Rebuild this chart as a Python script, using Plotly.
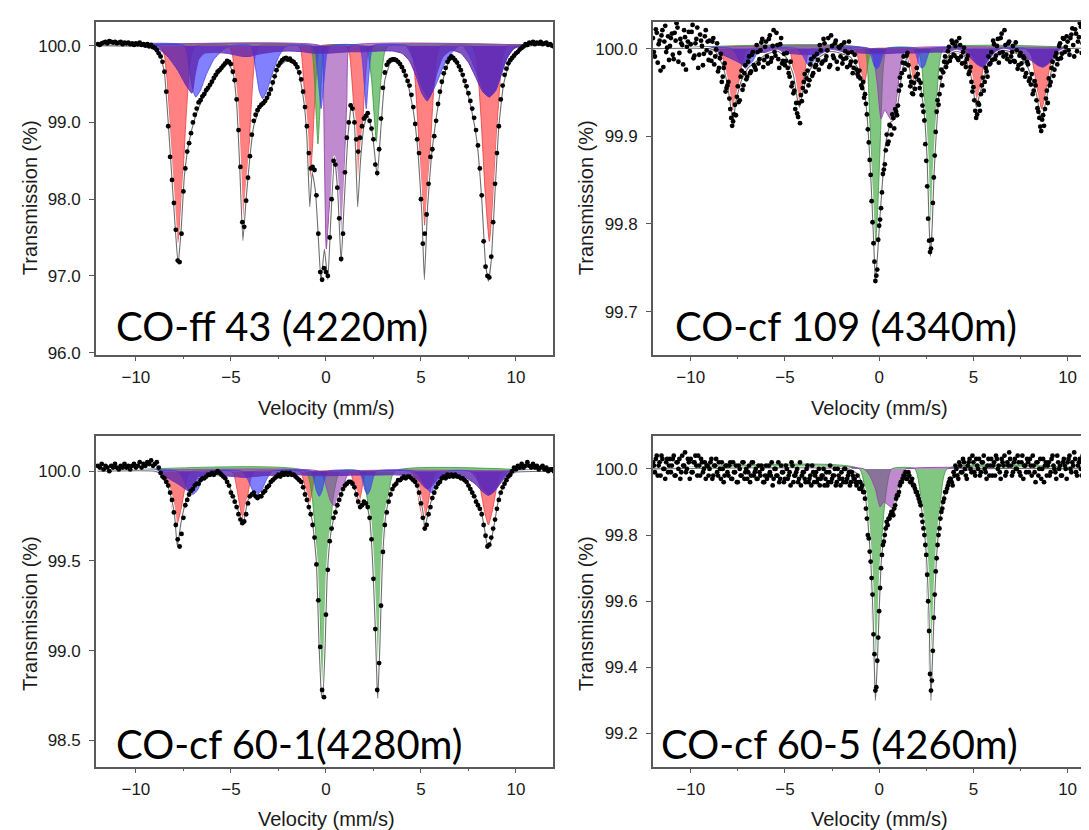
import plotly.graph_objects as go

W, H = 1089, 830

# ---------------- data ----------------
X_TICKS = [-10, -5, 0, 5, 10]
Y_TICKS = {
    1: [96.0, 97.0, 98.0, 99.0, 100.0],
    2: [99.7, 99.8, 99.9, 100.0],
    3: [98.5, 99.0, 99.5, 100.0],
    4: [99.2, 99.4, 99.6, 99.8, 100.0],
}
LABELS = {1: "CO-ff 43 (4220m)", 2: "CO-cf 109 (4340m)",
          3: "CO-cf 60-1(4280m)", 4: "CO-cf 60-5 (4260m)"}

# measured transmission (%) on the velocity channels -12.0 ... 12.0 mm/s (step 0.1)
P1_DOTS = [
    100.02, 100.01, 100.03, 100.04, 100.05, 100.03, 100.06, 100.05, 100.04, 100.05,
    100.03, 100.04, 100.05, 100.02, 100.04, 100.03, 100.04, 100.02, 100.03, 100.01,
    100.03, 100.02, 100.04, 100.01, 100.02, 100.00, 100.02, 99.99, 100.01, 99.98,
    99.97, 99.94, 99.90, 99.86, 99.79, 99.66, 99.40, 98.95, 98.55, 98.25,
    97.95, 97.60, 97.20, 97.18, 97.55, 98.10, 98.40, 98.62, 98.73, 98.86,
    99.00, 99.10, 99.18, 99.26, 99.29, 99.34, 99.37, 99.42, 99.45, 99.49,
    99.53, 99.58, 99.62, 99.66, 99.68, 99.71, 99.74, 99.77, 99.80, 99.79,
    99.76, 99.66, 99.55, 99.30, 98.90, 98.42, 97.70, 97.64, 97.98, 98.28,
    98.56, 98.84, 99.02, 99.10, 99.16, 99.20, 99.23, 99.25, 99.28, 99.32,
    99.37, 99.43, 99.52, 99.60, 99.68, 99.74, 99.78, 99.81, 99.83, 99.84,
    99.82, 99.83, 99.80, 99.79, 99.76, 99.72, 99.65, 99.56, 99.40, 99.20,
    98.95, 98.60, 98.40, 98.42, 98.38, 98.05, 97.55, 97.05, 96.95, 97.10,
    97.05, 97.00, 97.50, 98.00, 98.50, 98.45, 98.15, 97.75, 97.22, 97.55,
    98.35, 98.80, 99.00, 99.22, 99.18, 99.00, 98.78, 98.62, 98.80, 98.95,
    99.05, 99.08, 99.12, 99.02, 98.92, 98.78, 98.45, 98.34, 98.65, 99.05,
    99.45, 99.65, 99.75, 99.79, 99.81, 99.82, 99.82, 99.81, 99.79, 99.76,
    99.72, 99.67, 99.61, 99.54, 99.48, 99.36, 99.20, 98.98, 98.78, 98.60,
    98.00, 97.42, 97.55, 97.80, 98.20, 98.55, 98.65, 98.82, 99.02, 99.24,
    99.40, 99.53, 99.64, 99.71, 99.79, 99.83, 99.86, 99.84, 99.81, 99.78,
    99.73, 99.68, 99.62, 99.54, 99.47, 99.38, 99.28, 99.18, 99.06, 98.90,
    98.70, 98.40, 98.05, 97.45, 97.12, 97.00, 96.98, 97.25, 97.70, 98.20,
    98.60, 98.95, 99.30, 99.48, 99.62, 99.70, 99.77, 99.81, 99.84, 99.87,
    99.90, 99.92, 99.95, 99.97, 99.99, 100.02, 100.01, 100.04, 100.03, 100.05,
    100.02, 100.04, 100.03, 100.05, 100.02, 100.03, 100.04, 100.01, 100.02, 100.00,
    99.99,
]
P2_DOTS = [
    100.012, 99.991, 100.018, 100.005, 99.975, 100.021, 100.008, 99.996, 100.014, 100.003,
    100.017, 99.988, 100.009, 100.024, 99.995, 100.006, 99.982, 100.013, 100.002, 100.019,
    100.005, 100.027, 99.992, 100.011, 99.978, 100.016, 100.003, 99.994, 100.021, 100.008,
    100.009, 99.986, 100.012, 99.991, 100.006, 99.978, 99.994, 99.968, 99.983, 99.955,
    99.962, 99.931, 99.912, 99.925, 99.924, 99.957, 99.941, 99.975, 99.958, 99.981,
    99.968, 99.991, 99.974, 99.996, 99.979, 100.004, 99.983, 99.998, 100.011, 99.987,
    100.008, 99.983, 100.015, 99.989, 100.021, 99.992, 100.004, 99.978, 100.012, 99.986,
    99.981, 99.995, 99.972, 99.985, 99.961, 99.952, 99.938, 99.922, 99.915, 99.940,
    99.962, 99.951, 99.975, 99.964, 99.988, 99.972, 99.979, 99.994, 99.976, 99.998,
    99.985, 100.006, 99.991, 100.012, 99.981, 100.003, 99.989, 100.009, 99.977, 100.001,
    100.004, 99.988, 99.997, 99.979, 100.008, 99.985, 99.972, 99.993, 99.976, 99.968,
    99.966, 99.955, 99.944, 99.937, 99.908, 99.873, 99.826, 99.778, 99.735, 99.748,
    99.798, 99.818, 99.857, 99.868, 99.902, 99.894, 99.912, 99.925, 99.909, 99.928,
    99.935, 99.967, 99.972, 99.991, 99.983, 99.995, 99.968, 99.962, 99.948, 99.954,
    99.978, 99.964, 99.961, 99.935, 99.918, 99.872, 99.806, 99.768, 99.782, 99.853,
    99.905, 99.941, 99.948, 99.976, 99.973, 99.991, 99.984, 100.002, 99.990, 100.006,
    99.992, 100.008, 99.987, 100.004, 99.983, 100.001, 99.979, 99.992, 99.974, 99.962,
    99.956, 99.929, 99.925, 99.936, 99.948, 99.967, 99.962, 99.974, 99.991, 99.983,
    99.987, 100.005, 99.992, 100.011, 99.995, 100.017, 99.991, 100.004, 99.988, 100.008,
    99.991, 100.003, 99.985, 99.998, 99.981, 99.995, 99.976, 99.989, 99.972, 99.982,
    99.966, 99.971, 99.952, 99.958, 99.932, 99.921, 99.906, 99.924, 99.931, 99.952,
    99.966, 99.962, 99.985, 99.976, 99.995, 99.988, 100.006, 99.994, 100.011, 100.002,
    100.008, 99.993, 100.016, 100.004, 100.022, 99.997, 100.013, 100.025, 100.006, 100.018,
    100.011, 100.027, 99.998, 100.019, 100.008, 100.031, 100.002, 100.014, 99.992, 100.021,
    100.006,
]
# second (interleaved) set of channels for the noisy spectra: -11.95 ... 11.95 mm/s
P2_DOTS_B = [
    99.996, 100.022, 99.984, 100.009, 100.015, 99.979, 100.026, 100.001, 99.987, 100.012,
    99.993, 100.018, 100.029, 99.985, 100.011, 100.004, 100.021, 99.976, 100.008, 99.997,
    100.019, 99.989, 100.006, 100.024, 99.993, 100.009, 99.981, 100.014, 99.998, 99.987,
    99.995, 100.008, 99.982, 99.999, 99.974, 99.989, 99.962, 99.978, 99.951, 99.958,
    99.943, 99.921, 99.917, 99.936, 99.945, 99.939, 99.968, 99.953, 99.972, 99.965,
    99.985, 99.972, 99.993, 99.981, 99.976, 99.996, 99.988, 100.007, 99.979, 100.002,
    99.991, 100.011, 99.985, 100.003, 99.996, 100.018, 99.988, 100.005, 99.983, 99.994,
    99.986, 99.978, 99.968, 99.957, 99.949, 99.931, 99.926, 99.938, 99.947, 99.955,
    99.971, 99.966, 99.958, 99.982, 99.969, 99.991, 99.981, 99.987, 100.004, 99.983,
    100.011, 99.987, 99.998, 99.979, 100.015, 99.992, 100.006, 99.985, 100.002, 99.991,
    99.983, 100.007, 99.989, 99.995, 99.981, 99.996, 99.978, 99.985, 99.971, 99.975,
    99.958, 99.962, 99.948, 99.925, 99.893, 99.856, 99.802, 99.757, 99.741, 99.782,
    99.805, 99.836, 99.862, 99.884, 99.891, 99.913, 99.902, 99.921, 99.931, 99.924,
    99.952, 99.958, 99.984, 99.976, 99.992, 99.981, 99.957, 99.949, 99.961, 99.968,
    99.971, 99.955, 99.947, 99.928, 99.891, 99.843, 99.781, 99.772, 99.824, 99.878,
    99.928, 99.936, 99.967, 99.958, 99.985, 99.979, 99.997, 99.986, 100.009, 99.993,
    100.003, 99.989, 100.012, 99.991, 99.996, 99.984, 99.988, 99.971, 99.979, 99.951,
    99.941, 99.921, 99.938, 99.929, 99.958, 99.952, 99.978, 99.968, 99.982, 99.996,
    100.009, 99.988, 100.003, 99.984, 100.012, 99.996, 100.021, 99.993, 100.006, 99.985,
    99.996, 99.986, 100.007, 99.977, 99.992, 99.983, 99.991, 99.968, 99.985, 99.963,
    99.959, 99.948, 99.963, 99.941, 99.928, 99.911, 99.919, 99.912, 99.943, 99.938,
    99.958, 99.978, 99.969, 99.991, 99.982, 100.003, 99.989, 100.012, 99.996, 100.014,
    99.998, 100.012, 100.023, 99.991, 100.017, 100.008, 100.029, 99.995, 100.021, 100.004,
    100.024, 100.006, 100.016, 100.028, 99.995, 100.013, 100.022, 100.003, 100.018, 100.009,
]
P3_DOTS = [
    100.03, 100.02, 100.04, 100.01, 100.03, 100.02, 100.00, 100.03, 100.02, 100.04,
    100.02, 100.01, 100.03, 100.02, 100.04, 100.02, 100.03, 100.01, 100.03, 100.04,
    100.02, 100.03, 100.05, 100.02, 100.04, 100.03, 100.05, 100.04, 100.06, 100.03,
    100.04, 100.05, 100.02, 99.99, 99.97, 99.96, 99.94, 99.92, 99.88, 99.84,
    99.77, 99.70, 99.62, 99.58, 99.65, 99.74, 99.81, 99.84, 99.87, 99.89,
    99.90, 99.92, 99.93, 99.93, 99.95, 99.96, 99.96, 99.97, 99.98, 99.98,
    99.99, 99.98, 99.99, 100.00, 99.99, 99.98, 99.97, 99.96, 99.94, 99.92,
    99.88, 99.86, 99.83, 99.80, 99.76, 99.73, 99.71, 99.72, 99.76, 99.82,
    99.86, 99.87, 99.88, 99.86, 99.85, 99.86, 99.86, 99.88, 99.89, 99.91,
    99.92, 99.94, 99.95, 99.96, 99.97, 99.98, 99.97, 99.99, 99.98, 99.99,
    99.98, 99.99, 99.98, 99.98, 99.97, 99.96, 99.95, 99.94, 99.91, 99.87,
    99.84, 99.80, 99.76, 99.70, 99.63, 99.48, 99.28, 99.02, 98.78, 98.74,
    99.20, 99.45, 99.61, 99.68, 99.74, 99.77, 99.81, 99.84, 99.87, 99.90,
    99.92, 99.93, 99.94, 99.94, 99.93, 99.91, 99.87, 99.83, 99.80, 99.81,
    99.83, 99.82, 99.80, 99.74, 99.62, 99.40, 99.12, 98.78, 98.93, 99.25,
    99.55, 99.70, 99.77, 99.83, 99.87, 99.90, 99.92, 99.93, 99.95, 99.95,
    99.96, 99.97, 99.96, 99.97, 99.97, 99.96, 99.95, 99.94, 99.92, 99.88,
    99.82, 99.74, 99.68, 99.70, 99.76, 99.80, 99.85, 99.88, 99.91, 99.93,
    99.94, 99.96, 99.97, 99.96, 99.98, 99.97, 99.98, 99.97, 99.98, 99.97,
    99.97, 99.96, 99.96, 99.95, 99.94, 99.92, 99.90, 99.88, 99.86, 99.83,
    99.81, 99.79, 99.76, 99.70, 99.64, 99.58, 99.59, 99.63, 99.68, 99.73,
    99.79, 99.84, 99.88, 99.91, 99.93, 99.95, 99.97, 99.98, 100.00, 100.02,
    100.01, 100.03, 100.02, 100.04, 100.02, 100.03, 100.05, 100.03, 100.02, 100.04,
    100.02, 100.03, 100.01, 100.02, 100.03, 100.01, 100.02, 100.00, 100.01, 100.01,
    100.00,
]
P4_DOTS = [
    100.02, 99.99, 100.04, 100.01, 99.98, 100.03, 100.00, 100.02, 99.99, 100.03,
    100.01, 100.04, 99.98, 100.02, 100.03, 99.99, 100.01, 100.05, 100.00, 100.02,
    100.03, 99.99, 100.02, 100.01, 100.04, 99.98, 100.02, 100.00, 99.97, 100.01,
    100.00, 100.03, 99.98, 100.01, 99.99, 100.02, 99.97, 100.00, 99.98, 100.01,
    99.98, 100.02, 99.97, 99.99, 100.01, 99.96, 100.00, 99.98, 100.02, 99.99,
    99.97, 100.01, 99.98, 100.02, 99.99, 99.97, 100.01, 99.98, 100.00, 99.96,
    100.01, 99.98, 99.99, 100.02, 99.97, 100.00, 99.98, 99.96, 100.01, 99.99,
    99.97, 100.00, 99.98, 99.95, 100.01, 99.98, 99.99, 99.96, 100.02, 99.98,
    99.99, 99.96, 100.01, 99.97, 99.95, 99.99, 99.98, 99.96, 100.00, 99.97,
    99.98, 99.95, 99.99, 99.96, 100.01, 99.97, 99.98, 99.95, 100.00, 99.97,
    99.99, 99.96, 100.00, 99.97, 99.99, 99.96, 99.98, 99.97, 99.95, 99.96,
    99.96, 99.95, 99.93, 99.88, 99.80, 99.75, 99.67, 99.50, 99.33, 99.42,
    99.57, 99.70, 99.77, 99.80, 99.84, 99.85, 99.86, 99.87, 99.88, 99.91,
    99.92, 99.95, 99.96, 99.98, 99.99, 99.97, 99.98, 99.96, 99.95, 99.94,
    99.93, 99.91, 99.89, 99.84, 99.80, 99.74, 99.60, 99.38, 99.36, 99.55,
    99.69, 99.77, 99.82, 99.87, 99.90, 99.93, 99.94, 99.96, 99.97, 99.95,
    99.98, 100.00, 99.97, 100.01, 99.99, 100.02, 99.98, 100.01, 100.03, 99.99,
    100.02, 99.98, 100.01, 100.03, 99.99, 100.02, 100.00, 99.97, 100.03, 100.01,
    99.98, 100.02, 100.04, 100.00, 99.99, 100.03, 100.01, 99.98, 100.02, 100.05,
    100.01, 99.99, 100.03, 100.00, 100.02, 99.98, 100.04, 100.01, 99.99, 100.02,
    100.03, 99.98, 100.01, 99.96, 100.02, 100.00, 99.97, 100.03, 100.01, 99.98,
    100.02, 99.99, 100.04, 100.00, 99.97, 100.02, 100.01, 99.98, 100.03, 100.00,
    100.02, 100.04, 99.99, 100.01, 100.03, 99.98, 100.02, 100.00, 100.04, 100.01,
    99.99, 100.03, 100.01, 100.04, 99.98, 100.02, 100.00, 100.03, 100.01, 99.99,
    100.02,
]
P4_DOTS_B = [
    100.01, 100.03, 99.98, 100.02, 100.04, 100.00, 99.97, 100.03, 100.01, 99.99,
    100.03, 99.98, 100.02, 100.00, 99.97, 100.04, 100.01, 99.99, 100.03, 99.97,
    99.99, 100.02, 100.04, 99.98, 100.01, 100.03, 99.99, 100.02, 100.01, 99.98,
    100.02, 99.97, 100.01, 100.03, 99.98, 100.00, 100.02, 99.96, 100.01, 99.99,
    100.01, 99.97, 100.02, 99.99, 99.96, 100.01, 99.98, 100.02, 99.97, 100.00,
    99.99, 99.96, 100.02, 99.98, 100.00, 99.97, 99.99, 100.01, 99.96, 99.98,
    99.97, 100.01, 99.98, 99.95, 100.00, 99.98, 100.02, 99.97, 99.99, 99.96,
    100.01, 99.97, 99.99, 100.02, 99.96, 99.98, 100.00, 99.97, 99.95, 99.99,
    99.97, 100.00, 99.96, 99.98, 100.01, 99.96, 99.99, 99.97, 99.95, 99.98,
    100.00, 99.97, 99.95, 99.99, 99.96, 99.98, 100.00, 99.96, 99.98, 99.95,
    99.97, 100.00, 99.96, 99.98, 99.95, 99.99, 99.97, 99.96, 99.98, 99.94,
    99.94, 99.93, 99.91, 99.85, 99.79, 99.72, 99.62, 99.44, 99.34, 99.49,
    99.64, 99.74, 99.78, 99.82, 99.83, 99.85, 99.87, 99.86, 99.89, 99.92,
    99.93, 99.96, 99.97, 99.98, 99.97, 99.99, 99.96, 99.97, 99.95, 99.93,
    99.92, 99.90, 99.86, 99.82, 99.77, 99.68, 99.51, 99.33, 99.45, 99.62,
    99.73, 99.80, 99.85, 99.88, 99.91, 99.93, 99.95, 99.97, 99.96, 99.99,
    100.01, 99.98, 100.02, 99.99, 100.03, 100.00, 99.97, 100.02, 100.00, 100.04,
    99.99, 100.03, 100.00, 99.98, 100.02, 100.04, 99.99, 100.01, 99.98, 100.03,
    100.01, 99.98, 100.03, 100.01, 99.97, 100.02, 100.04, 99.99, 100.01, 100.03,
    99.98, 100.02, 100.00, 100.04, 99.99, 100.02, 99.97, 100.01, 100.03, 99.99,
    100.01, 100.04, 99.99, 100.02, 99.98, 100.03, 100.00, 99.96, 100.02, 100.01,
    99.98, 100.03, 100.01, 99.99, 100.04, 100.00, 99.98, 100.02, 100.01, 99.97,
    100.03, 100.00, 100.02, 100.05, 99.99, 100.01, 100.03, 99.98, 100.02, 100.00,
    100.01, 99.99, 100.03, 100.00, 100.02, 100.04, 99.98, 100.01, 100.03, 100.00,
]

# total fitted envelope (velocity, transmission)
P1_FIT = [(-12, 100.0), (-9.5, 99.99), (-9.0, 99.96), (-8.7, 99.86), (-8.5, 99.65), (-8.3, 99.0),
          (-8.1, 98.25), (-7.95, 97.7), (-7.78, 97.15), (-7.62, 97.6), (-7.45, 98.3), (-7.2, 98.75),
          (-6.9, 99.05), (-6.5, 99.3), (-6.0, 99.5), (-5.5, 99.68), (-5.15, 99.76), (-4.9, 99.66),
          (-4.7, 99.25), (-4.55, 98.5), (-4.37, 97.46), (-4.2, 98.0), (-4.0, 98.55), (-3.8, 98.95),
          (-3.5, 99.17), (-3.1, 99.3), (-2.8, 99.5), (-2.5, 99.72), (-2.1, 99.8), (-1.7, 99.77),
          (-1.4, 99.62), (-1.15, 99.25), (-1.0, 98.8), (-0.85, 97.9), (-0.72, 98.35), (-0.55, 98.1),
          (-0.4, 97.5), (-0.26, 96.93), (-0.08, 97.35), (0.1, 96.95), (0.25, 97.7), (0.45, 98.55),
          (0.62, 98.1), (0.8, 97.18), (0.95, 97.9), (1.15, 98.8), (1.35, 99.25), (1.5, 99.0),
          (1.67, 97.9), (1.82, 98.5), (2.0, 98.95), (2.2, 99.1), (2.45, 98.85), (2.7, 98.3),
          (2.9, 98.95), (3.1, 99.55), (3.4, 99.78), (3.7, 99.8), (4.0, 99.72), (4.3, 99.52),
          (4.6, 99.15), (4.85, 98.6), (5.05, 97.8), (5.18, 96.95), (5.35, 97.9), (5.55, 98.55),
          (5.8, 99.05), (6.1, 99.5), (6.4, 99.75), (6.65, 99.84), (6.95, 99.74), (7.3, 99.52),
          (7.65, 99.18), (7.95, 98.75), (8.2, 98.0), (8.4, 97.15), (8.55, 96.93), (8.7, 97.2),
          (8.9, 98.1), (9.1, 98.95), (9.35, 99.5), (9.7, 99.8), (10.2, 99.95), (10.8, 100.0), (12, 100.0)]
P2_FIT = [(-12, 100.0), (-9.0, 100.0), (-8.7, 99.997), (-8.33, 99.982), (-8.06, 99.96), (-7.87, 99.933),
          (-7.74, 99.918), (-7.6, 99.94), (-7.32, 99.963), (-6.95, 99.978), (-6.49, 99.986), (-5.94, 99.994),
          (-5.39, 99.997), (-4.93, 99.99), (-4.56, 99.971), (-4.32, 99.94), (-4.22, 99.933), (-4.0, 99.956),
          (-3.64, 99.977), (-3.18, 99.99), (-2.62, 99.997), (-2.1, 99.995), (-1.51, 99.99), (-1.14, 99.978),
          (-0.87, 99.96), (-0.68, 99.933), (-0.5, 99.877), (-0.37, 99.82), (-0.26, 99.763), (-0.2, 99.733),
          (-0.1, 99.76), (0.05, 99.81), (0.15, 99.84), (0.33, 99.89), (0.61, 99.916), (0.85, 99.92),
          (1.07, 99.948), (1.25, 99.978), (1.5, 99.99), (1.81, 99.952), (2.03, 99.975), (2.2, 99.955),
          (2.36, 99.933), (2.54, 99.877), (2.65, 99.8), (2.73, 99.763), (2.82, 99.8), (2.92, 99.86),
          (3.05, 99.91), (3.19, 99.952), (3.47, 99.982), (3.74, 99.994), (4.1, 99.997), (4.48, 99.994),
          (4.85, 99.971), (5.05, 99.945), (5.16, 99.933), (5.3, 99.945), (5.49, 99.96), (5.77, 99.982),
          (6.24, 99.995), (6.6, 99.998), (7.34, 99.994), (7.9, 99.978), (8.35, 99.948), (8.55, 99.922),
          (8.63, 99.918), (8.75, 99.93), (8.9, 99.945), (9.17, 99.978), (9.54, 99.995), (10.0, 100.0),
          (12, 100.0)]
P3_FIT = [(-12, 100.0), (-9.0, 100.0), (-8.7, 99.985), (-8.44, 99.95), (-8.16, 99.86), (-7.97, 99.76),
          (-7.82, 99.58), (-7.63, 99.71), (-7.4, 99.82), (-7.12, 99.885), (-6.75, 99.93), (-6.27, 99.967),
          (-5.6, 99.985), (-5.24, 99.95), (-4.86, 99.857), (-4.55, 99.76), (-4.35, 99.71), (-4.1, 99.84),
          (-3.8, 99.875), (-3.52, 99.857), (-3.14, 99.893), (-2.76, 99.95), (-2.2, 99.976), (-1.83, 99.985),
          (-1.35, 99.95), (-1.07, 99.875), (-0.88, 99.8), (-0.7, 99.71), (-0.5, 99.49), (-0.36, 99.03),
          (-0.23, 98.75), (-0.17, 98.735), (-0.04, 99.03), (0.06, 99.4), (0.24, 99.64), (0.47, 99.765),
          (0.71, 99.857), (1.0, 99.92), (1.28, 99.94), (1.47, 99.91), (1.66, 99.857), (1.84, 99.8),
          (2.0, 99.83), (2.13, 99.82), (2.31, 99.73), (2.46, 99.49), (2.6, 99.12), (2.69, 98.81),
          (2.73, 98.735), (2.84, 99.03), (2.97, 99.49), (3.16, 99.765), (3.44, 99.893), (3.82, 99.95),
          (4.2, 99.967), (4.48, 99.97), (4.76, 99.93), (4.95, 99.857), (5.14, 99.747), (5.19, 99.68),
          (5.42, 99.785), (5.61, 99.857), (5.89, 99.93), (6.27, 99.967), (6.83, 99.976), (7.39, 99.95),
          (7.77, 99.875), (8.15, 99.785), (8.33, 99.69), (8.52, 99.57), (8.71, 99.62), (8.9, 99.73),
          (9.08, 99.84), (9.37, 99.93), (9.65, 99.976), (10.0, 99.995), (12, 100.0)]
P4_FIT = [(-12, 100.0), (-1.6, 100.0), (-1.14, 99.985), (-0.77, 99.935), (-0.59, 99.836), (-0.44, 99.717),
          (-0.33, 99.568), (-0.26, 99.41), (-0.2, 99.30), (-0.1, 99.41), (0.0, 99.57), (0.11, 99.717),
          (0.24, 99.786), (0.42, 99.836), (0.66, 99.866), (0.88, 99.896), (1.06, 99.935), (1.25, 99.965),
          (1.43, 99.98), (1.61, 99.98), (1.89, 99.955), (2.17, 99.906), (2.39, 99.816), (2.53, 99.717),
          (2.64, 99.568), (2.7, 99.41), (2.75, 99.30), (2.82, 99.41), (2.92, 99.568), (3.03, 99.717),
          (3.2, 99.836), (3.42, 99.915), (3.8, 99.965), (4.28, 99.99), (5.0, 100.0), (12, 100.0)]

# fitted sub-spectra outlines (velocity, transmission)
P1_RED = [(-12, 100), (-8.75, 100), (-8.5, 99.87), (-8.25, 99.10), (-8.02, 98.07), (-7.8, 97.43),
          (-7.58, 98.07), (-7.35, 99.10), (-7.1, 99.87), (-6.85, 100), (-5.13, 100), (-4.92, 99.88),
          (-4.70, 99.17), (-4.51, 98.23), (-4.32, 97.64), (-4.13, 98.23), (-3.94, 99.17), (-3.72, 99.88),
          (-3.51, 100), (-1.45, 100), (-1.30, 99.91), (-1.13, 99.38), (-0.99, 98.67), (-0.85, 98.23),
          (-0.71, 98.67), (-0.57, 99.38), (-0.40, 99.91), (-0.25, 100), (1.05, 100), (1.23, 99.91),
          (1.42, 99.37), (1.57, 98.65), (1.72, 98.2), (1.87, 98.65), (2.02, 99.37), (2.21, 99.91),
          (2.39, 100), (4.34, 100), (4.57, 99.88), (4.79, 99.18), (5.0, 98.25), (5.2, 97.66),
          (5.4, 98.25), (5.61, 99.18), (5.83, 99.88), (6.06, 100), (7.65, 100), (7.9, 99.87),
          (8.15, 99.11), (8.38, 98.09), (8.6, 97.45), (8.82, 98.09), (9.05, 99.11), (9.3, 99.87),
          (9.55, 100), (12, 100)]
P1_GREEN = [(-12, 100), (-0.87, 100), (-0.72, 99.92), (-0.60, 99.55), (-0.50, 99.04), (-0.42, 98.72),
            (-0.34, 99.04), (-0.24, 99.55), (-0.12, 99.92), (0.03, 100), (2.0, 100), (2.2, 99.925),
            (2.4, 99.56), (2.55, 99.06), (2.65, 98.75), (2.75, 99.06), (2.9, 99.56), (3.1, 99.925),
            (3.3, 100), (12, 100)]
P1_MAGENTA = [(-12, 100), (-0.3, 100), (-0.17, 99.9), (-0.12, 99.3), (-0.08, 98.6), (0.02, 97.35),
              (0.2, 97.95), (0.45, 98.42), (0.68, 97.95), (0.86, 97.33), (1.0, 98.6), (1.1, 99.3),
              (1.16, 99.9), (1.3, 100), (12, 100)]
P1_BLUE = [(-12, 100), (-7.45, 100), (-7.2, 99.7), (-7.0, 99.42), (-6.85, 99.33), (-6.6, 99.42),
           (-6.3, 99.62), (-5.9, 99.82), (-5.4, 99.95), (-5.0, 100), (-3.95, 100), (-3.7, 99.7),
           (-3.5, 99.4), (-3.33, 99.31), (-3.1, 99.42), (-2.8, 99.65), (-2.5, 99.85), (-2.2, 99.97),
           (-2.0, 100), (-0.75, 100), (-0.55, 99.9), (-0.4, 99.55), (-0.25, 99.18), (-0.1, 99.55),
           (0.05, 99.9), (0.25, 100), (1.75, 100), (1.9, 99.85), (2.02, 99.5), (2.12, 99.18),
           (2.22, 99.5), (2.35, 99.85), (2.5, 100), (4.2, 100), (4.6, 99.82), (5.0, 99.5),
           (5.4, 99.32), (5.8, 99.5), (6.2, 99.74), (6.6, 99.9), (7.0, 100), (7.2, 100),
           (7.6, 99.85), (8.0, 99.6), (8.35, 99.4), (8.6, 99.34), (8.9, 99.42), (9.2, 99.6),
           (9.5, 99.82), (9.9, 99.97), (10.2, 100), (12, 100)]
P1_VIOLET = [(-12, 100), (-9.2, 100), (-8.8, 99.96), (-8.3, 99.85), (-7.8, 99.68), (-7.4, 99.5),
             (-7.05, 99.38), (-6.9, 99.6), (-6.7, 99.82), (-6.4, 99.9), (-5.8, 99.91), (-5.2, 99.9),
             (-4.8, 99.88), (-4.4, 99.86), (-4.0, 99.86), (-3.7, 99.88), (-3.3, 99.9), (-2.7, 99.92),
             (-2.0, 99.93), (-1.2, 99.92), (-0.6, 99.9), (0.0, 99.9), (0.6, 99.91), (1.2, 99.92),
             (2.0, 99.92), (2.8, 99.93), (3.5, 99.93), (4.0, 99.9), (4.4, 99.8), (4.75, 99.6),
             (5.05, 99.38), (5.33, 99.28), (5.6, 99.4), (5.85, 99.65), (6.15, 99.85), (6.6, 99.94),
             (7.1, 99.9), (7.5, 99.78), (7.9, 99.58), (8.25, 99.4), (8.6, 99.33), (8.95, 99.42),
             (9.25, 99.65), (9.55, 99.85), (9.9, 99.96), (10.3, 100), (12, 100)]

P2_RED = [(-12, 100), (-8.61, 100), (-8.38, 99.9965), (-8.16, 99.975), (-7.95, 99.947), (-7.75, 99.929),
          (-7.55, 99.947), (-7.34, 99.975), (-7.12, 99.9965), (-6.89, 100), (-4.91, 100), (-4.73, 99.997),
          (-4.56, 99.977), (-4.39, 99.951), (-4.24, 99.935), (-4.09, 99.951), (-3.92, 99.977),
          (-3.75, 99.997), (-3.57, 100), (-1.35, 100), (-1.22, 99.998), (-1.08, 99.985), (-0.95, 99.967),
          (-0.83, 99.956), (-0.71, 99.967), (-0.58, 99.985), (-0.44, 99.998), (-0.31, 100), (1.33, 100),
          (1.46, 99.998), (1.58, 99.985), (1.7, 99.967), (1.81, 99.956), (1.92, 99.967), (2.04, 99.985),
          (2.16, 99.998), (2.29, 100), (4.4, 100), (4.6, 99.997), (4.8, 99.978), (4.98, 99.953),
          (5.16, 99.937), (5.34, 99.953), (5.52, 99.978), (5.72, 99.997), (5.92, 100), (7.77, 100),
          (8.0, 99.997), (8.22, 99.976), (8.43, 99.948), (8.63, 99.931), (8.83, 99.948), (9.04, 99.976),
          (9.26, 99.997), (9.49, 100), (12, 100)]
P2_GREEN = [(-12, 100), (-0.8, 100), (-0.62, 99.978), (-0.45, 99.888), (-0.33, 99.82), (-0.2, 99.775),
            (-0.07, 99.82), (0.05, 99.888), (0.22, 99.978), (0.4, 100), (2.02, 100), (2.27, 99.978),
            (2.49, 99.888), (2.6, 99.82), (2.72, 99.775), (2.84, 99.82), (2.95, 99.888), (3.17, 99.978),
            (3.42, 100), (12, 100)]
P2_MAGENTA = [(-12, 100), (-0.5, 100), (-0.3, 99.99), (-0.1, 99.96), (0.1, 99.92), (0.3, 99.93),
              (0.45, 99.925), (0.7, 99.917), (0.92, 99.94), (1.1, 99.975), (1.3, 99.995), (1.45, 100),
              (12, 100)]
P2_BLUE = [(-12, 100), (-7.85, 100), (-7.55, 99.992), (-7.3, 99.982), (-7.05, 99.977), (-6.8, 99.982),
           (-6.55, 99.992), (-6.25, 100), (-4.35, 100), (-4.05, 99.992), (-3.8, 99.982), (-3.55, 99.978),
           (-3.3, 99.982), (-3.05, 99.992), (-2.75, 100), (-0.6, 100), (-0.4, 99.99), (-0.25, 99.98),
           (-0.13, 99.977), (0.0, 99.98), (0.15, 99.99), (0.35, 100), (1.85, 100), (2.0, 99.99),
           (2.15, 99.98), (2.27, 99.978), (2.4, 99.98), (2.55, 99.99), (2.75, 100), (4.6, 100),
           (4.9, 99.993), (5.2, 99.983), (5.5, 99.979), (5.8, 99.983), (6.1, 99.993), (6.4, 100),
           (7.75, 100), (8.05, 99.993), (8.35, 99.983), (8.65, 99.979), (8.95, 99.983), (9.25, 99.993),
           (9.55, 100), (12, 100)]
P2_VIOLET = [(-12, 100), (-9.3, 100), (-8.8, 99.997), (-8.2, 99.992), (-7.6, 99.986), (-7.2, 99.982),
             (-6.95, 99.99), (-6.5, 99.995), (-5.5, 99.996), (-4.5, 99.994), (-3.8, 99.993), (-3.2, 99.995),
             (-2.0, 99.996), (-1.0, 99.995), (0.0, 99.994), (1.0, 99.995), (2.0, 99.995), (3.0, 99.996),
             (4.2, 99.995), (4.8, 99.99), (5.2, 99.982), (5.5, 99.979), (5.8, 99.984), (6.2, 99.993),
             (6.8, 99.996), (7.5, 99.993), (8.1, 99.986), (8.4, 99.981), (8.7, 99.979), (9.0, 99.983),
             (9.3, 99.99), (9.7, 99.997), (10.2, 100), (12, 100)]

P3_RED = [(-12, 100), (-8.71, 100), (-8.48, 99.985), (-8.26, 99.895), (-8.05, 99.775), (-7.85, 99.70),
          (-7.65, 99.775), (-7.44, 99.895), (-7.22, 99.985), (-6.99, 100), (-5.04, 100), (-4.86, 99.987),
          (-4.69, 99.906), (-4.52, 99.798), (-4.37, 99.73), (-4.22, 99.798), (-4.05, 99.906),
          (-3.88, 99.987), (-3.7, 100), (-1.42, 100), (-1.29, 99.99), (-1.15, 99.934), (-1.02, 99.858),
          (-0.9, 99.81), (-0.78, 99.858), (-0.65, 99.934), (-0.51, 99.99), (-0.38, 100), (1.18, 100),
          (1.31, 99.99), (1.45, 99.934), (1.58, 99.858), (1.7, 99.81), (1.82, 99.858), (1.95, 99.934),
          (2.09, 99.99), (2.22, 100), (4.39, 100), (4.59, 99.986), (4.79, 99.902), (4.97, 99.79),
          (5.15, 99.72), (5.33, 99.79), (5.51, 99.902), (5.71, 99.986), (5.91, 100), (7.69, 100),
          (7.92, 99.985), (8.14, 99.895), (8.35, 99.775), (8.55, 99.70), (8.75, 99.775), (8.96, 99.895),
          (9.18, 99.985), (9.41, 100), (12, 100)]
P3_GREEN = [(-12, 100), (-1.07, 100), (-0.72, 99.848), (-0.49, 99.557), (-0.34, 99.241), (-0.25, 98.925),
            (-0.17, 98.735), (-0.09, 98.925), (0.0, 99.241), (0.15, 99.557), (0.38, 99.848), (0.73, 100),
            (1.82, 100), (2.17, 99.848), (2.4, 99.557), (2.55, 99.241), (2.64, 98.925), (2.72, 98.735),
            (2.8, 98.925), (2.89, 99.241), (3.04, 99.557), (3.27, 99.848), (3.62, 100), (12, 100)]
P3_MAGENTA = [(-12, 100), (-0.35, 100), (-0.15, 99.97), (0.05, 99.9), (0.25, 99.83), (0.4, 99.81),
              (0.55, 99.815), (0.75, 99.84), (0.9, 99.9), (1.05, 99.96), (1.2, 99.99), (1.35, 100),
              (12, 100)]
P3_BLUE = [(-12, 100), (-7.8, 100), (-7.5, 99.955), (-7.25, 99.896), (-7.0, 99.87), (-6.75, 99.896),
           (-6.5, 99.955), (-6.2, 100), (-4.42, 100), (-4.12, 99.955), (-3.87, 99.896), (-3.62, 99.87),
           (-3.37, 99.896), (-3.12, 99.955), (-2.82, 100), (-0.8, 100), (-0.63, 99.951), (-0.49, 99.888),
           (-0.35, 99.86), (-0.21, 99.888), (-0.07, 99.951), (0.1, 100), (1.74, 100), (1.91, 99.955),
           (2.05, 99.896), (2.19, 99.87), (2.33, 99.896), (2.47, 99.955), (2.64, 100), (4.65, 100),
           (5.0, 99.958), (5.3, 99.904), (5.55, 99.88), (5.8, 99.904), (6.1, 99.958), (6.45, 100),
           (7.6, 100), (7.95, 99.955), (8.3, 99.896), (8.6, 99.87), (8.9, 99.896), (9.25, 99.955),
           (9.6, 100), (12, 100)]
P3_VIOLET = [(-12, 100), (-9.2, 100), (-8.8, 99.99), (-8.3, 99.96), (-7.8, 99.93), (-7.4, 99.9),
             (-7.1, 99.88), (-6.95, 99.93), (-6.7, 99.97), (-6.2, 99.975), (-5.5, 99.975), (-4.8, 99.97),
             (-4.3, 99.965), (-3.8, 99.97), (-3.3, 99.975), (-2.5, 99.978), (-1.5, 99.98), (-0.5, 99.975),
             (0.5, 99.975), (1.5, 99.978), (2.5, 99.978), (3.5, 99.98), (4.3, 99.975), (4.8, 99.955),
             (5.1, 99.92), (5.35, 99.9), (5.6, 99.92), (5.9, 99.96), (6.4, 99.978), (7.0, 99.975),
             (7.5, 99.955), (7.9, 99.925), (8.25, 99.885), (8.55, 99.865), (8.85, 99.885), (9.2, 99.935),
             (9.5, 99.97), (9.9, 99.99), (10.3, 100), (12, 100)]

P4_GREEN = [(-12, 100), (-1.05, 100), (-0.7, 99.895), (-0.5, 99.755), (-0.36, 99.545), (-0.27, 99.37),
            (-0.2, 99.30), (-0.13, 99.37), (-0.04, 99.545), (0.1, 99.755), (0.3, 99.895), (0.65, 100),
            (1.9, 100), (2.25, 99.895), (2.45, 99.755), (2.59, 99.545), (2.68, 99.37), (2.75, 99.30),
            (2.82, 99.37), (2.91, 99.545), (3.05, 99.755), (3.25, 99.895), (3.6, 100), (12, 100)]
P4_MAGENTA = [(-12, 100), (-0.8, 100), (-0.5, 99.98), (-0.2, 99.94), (0.05, 99.885), (0.25, 99.9),
              (0.5, 99.89), (0.75, 99.88), (0.95, 99.92), (1.1, 99.96), (1.25, 99.99), (1.4, 100),
              (12, 100)]

PANELS = {
    1: dict(dots=[P1_DOTS], fit=P1_FIT,
            comps=[("red", P1_RED), ("green", P1_GREEN), ("magenta", P1_MAGENTA),
                   ("blue", P1_BLUE), ("violet", P1_VIOLET)]),
    2: dict(dots=[P2_DOTS, P2_DOTS_B], fit=P2_FIT,
            comps=[("red", P2_RED), ("green", P2_GREEN), ("magenta", P2_MAGENTA),
                   ("blue", P2_BLUE), ("violet", P2_VIOLET)]),
    3: dict(dots=[P3_DOTS], fit=P3_FIT,
            comps=[("red", P3_RED), ("green", P3_GREEN), ("magenta", P3_MAGENTA),
                   ("blue", P3_BLUE), ("violet", P3_VIOLET)]),
    4: dict(dots=[P4_DOTS, P4_DOTS_B], fit=P4_FIT,
            comps=[("green", P4_GREEN), ("magenta", P4_MAGENTA)]),
}

# ---------------- styling / layout ----------------
FILL = {
    "red": ("rgba(255,45,45,0.60)", "rgba(235,60,60,0.8)"),
    "green": ("rgba(45,160,45,0.60)", "rgba(60,150,60,0.8)"),
    "magenta": ("rgba(145,55,170,0.58)", "rgba(150,70,170,0.9)"),
    "blue": ("rgba(45,45,255,0.60)", "rgba(70,70,235,0.8)"),
    "violet": ("rgba(95,40,175,0.80)", "rgba(105,50,190,1)"),
}
BOX = {1: (88, 545, 14, 350), 2: (645, 1089, 14, 350),
       3: (88, 545, 432, 766), 4: (645, 1089, 432, 766)}
XR = {1: [-12.1, 11.95], 2: [-12.0, 11.56], 3: [-12.1, 11.95], 4: [-12.0, 11.56]}
YR = {1: [95.974, 100.31], 2: [99.651, 100.0305], 3: [98.353, 100.197], 4: [99.1, 100.1]}
TICK_FONT = dict(family="Liberation Sans, Arial, sans-serif", size=17, color="#1a1a1a")
TITLE_FONT = dict(family="Liberation Sans, Arial, sans-serif", size=20, color="#1a1a1a")
LABEL_FONT = dict(family="Lato, Carlito, sans-serif", size=40, color="#000000")
FRAME = "#5a5a5a"

fig = go.Figure()
layout = dict(width=W, height=H, margin=dict(l=0, r=0, t=0, b=0),
              paper_bgcolor="white", plot_bgcolor="white", showlegend=False)
annotations = []

for k, p in PANELS.items():
    xa = "x" if k == 1 else f"x{k}"
    ya = "y" if k == 1 else f"y{k}"
    for name, poly in p["comps"]:
        fc, lc = FILL[name]
        fig.add_trace(go.Scatter(
            x=[q[0] for q in poly], y=[q[1] for q in poly], mode="lines", fill="toself",
            fillcolor=fc, line=dict(color=lc, width=1, shape="spline", smoothing=0.5),
            xaxis=xa, yaxis=ya, hoverinfo="skip"))
    fx = [q[0] for q in p["fit"]]
    fy = [q[1] for q in p["fit"]]
    fig.add_trace(go.Scatter(x=fx, y=fy, mode="lines",
                             line=dict(color="white", width=3, shape="spline", smoothing=0.4),
                             xaxis=xa, yaxis=ya, hoverinfo="skip"))
    fig.add_trace(go.Scatter(x=fx, y=fy, mode="lines",
                             line=dict(color="#6e6e6e", width=1.1, shape="spline", smoothing=0.4),
                             xaxis=xa, yaxis=ya, hoverinfo="skip"))
    for j, series in enumerate(p["dots"]):
        start = -12.0 + 0.05 * j
        vel = [round(start + 0.1 * i, 2) for i in range(len(series))]
        fig.add_trace(go.Scatter(x=vel, y=series, mode="markers",
                                 marker=dict(color="black", size=4.8),
                                 xaxis=xa, yaxis=ya))

    x0, x1, y0, y1 = BOX[k]
    right_open = k in (2, 4)
    layout["xaxis" if k == 1 else f"xaxis{k}"] = dict(
        domain=[x0 / W, x1 / W], range=XR[k], anchor=ya,
        showline=True, linecolor=FRAME, linewidth=1.7, mirror=True,
        ticks="outside", ticklen=5, tickwidth=1.3, tickcolor=FRAME, ticklabelstandoff=1,
        tickvals=X_TICKS, tickfont=TICK_FONT, showgrid=False, zeroline=False,
        minor=dict(ticks="outside", dtick=2.5, tick0=0, ticklen=3, tickcolor=FRAME, showgrid=False))
    layout["yaxis" if k == 1 else f"yaxis{k}"] = dict(
        domain=[1 - y1 / H, 1 - y0 / H], range=YR[k], anchor=xa,
        showline=True, linecolor=FRAME, linewidth=1.7, mirror=not right_open,
        ticks="outside", ticklen=5, tickwidth=1.3, tickcolor=FRAME, ticklabelstandoff=5,
        tickvals=Y_TICKS[k], tickformat=".1f", tickfont=TICK_FONT,
        showgrid=False, zeroline=False)

    xc = 318 if k in (1, 3) else 871
    yt = 22 if k in (1, 3) else 578
    ymid = 192 if k in (1, 2) else 612
    ylab = 404 if k in (1, 2) else 819
    annotations.append(dict(text="Velocity (mm/s)", x=xc / W, y=1 - ylab / H, xref="paper", yref="paper",
                            showarrow=False, font=TITLE_FONT, xanchor="center", yanchor="middle"))
    annotations.append(dict(text="Transmission (%)", x=yt / W, y=1 - ymid / H, xref="paper", yref="paper",
                            showarrow=False, font=TITLE_FONT, textangle=-90,
                            xanchor="center", yanchor="middle"))
    lx = {1: 106, 2: 665, 3: 106, 4: 651}[k]
    ly = 321 if k in (1, 2) else 743
    annotations.append(dict(text=LABELS[k], x=lx / W, y=1 - ly / H, xref="paper", yref="paper",
                            showarrow=False, font=LABEL_FONT, xanchor="left", yanchor="middle"))

layout["annotations"] = annotations
fig.update_layout(**layout)
fig.write_html("out.html")
